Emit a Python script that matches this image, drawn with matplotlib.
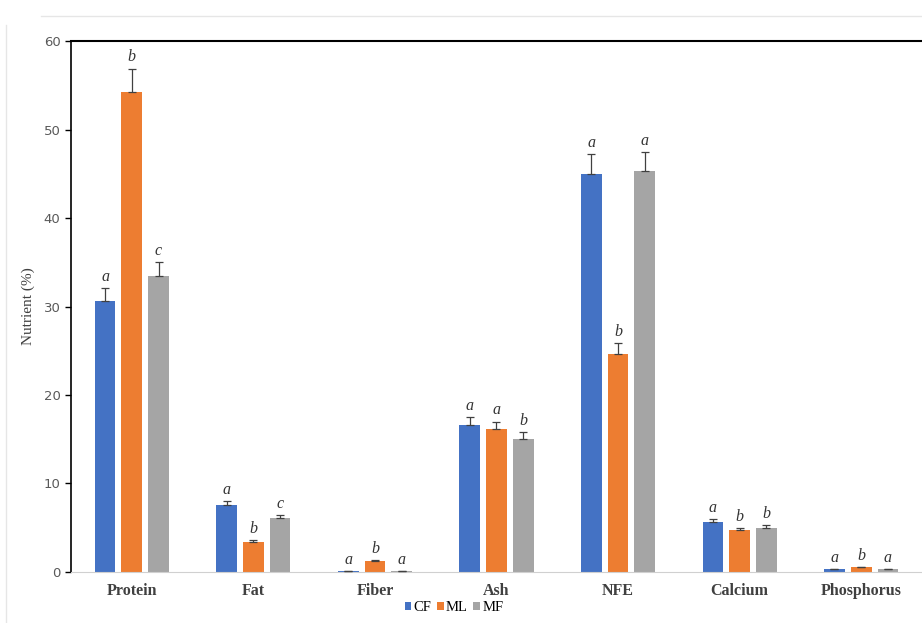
import numpy as np
import matplotlib.pyplot as plt
from matplotlib.lines import Line2D

# nutrient composition
categories = ['Protein', 'Fat', 'Fiber', 'Ash', 'NFE', 'Calcium', 'Phosphorus']
groups = ['CF', 'ML', 'MF']
cf = [30.6, 7.6, 0.1, 16.6, 45.0, 5.6, 0.3]
ml = [54.3, 3.4, 1.2, 16.2, 24.6, 4.7, 0.5]
mf = [33.4, 6.1, 0.05, 15.0, 45.3, 5.0, 0.3]
cf_err = [1.5, 0.4, 0.0, 0.9, 2.2, 0.4, 0.05]
ml_err = [2.6, 0.2, 0.1, 0.8, 1.3, 0.3, 0.05]
mf_err = [1.6, 0.3, 0.0, 0.8, 2.2, 0.3, 0.05]
cf_sig = ['a', 'a', 'a', 'a', 'a', 'a', 'a']
ml_sig = ['b', 'b', 'b', 'a', 'b', 'b', 'b']
mf_sig = ['c', 'c', 'a', 'b', 'a', 'b', 'a']

colors = ['#4472C4', '#ED7D31', '#A5A5A5']
serif = ['Liberation Serif', 'DejaVu Serif']

fig = plt.figure(figsize=(9.22, 6.23), dpi=100)
ax = fig.add_axes([0.077, 0.082, 0.923, 0.852])

# faint chart-area border like the Excel frame
fig.add_artist(Line2D([0.045, 1.0], [0.975, 0.975], color='#e6e6e6', lw=1))
fig.add_artist(Line2D([0.007, 0.007], [0.0, 0.96], color='#e6e6e6', lw=1))

x = np.arange(len(categories))
w = 0.17
step = 0.22
series = [(cf, cf_err, cf_sig), (ml, ml_err, ml_sig), (mf, mf_err, mf_sig)]
for i, (vals, errs, sigs) in enumerate(series):
    xs = x + (i - 1) * step
    ax.bar(xs, vals, width=w, color=colors[i], label=groups[i], zorder=2)
    ax.errorbar(xs, vals, yerr=[np.zeros(len(vals)), errs], fmt='none',
                ecolor='#404040', elinewidth=0.9, capsize=3, capthick=0.9, zorder=3)
    for xi, v, e, s in zip(xs, vals, errs, sigs):
        ax.text(xi, v + e + 0.35, s, ha='center', va='bottom', fontsize=11.5,
                style='italic', family=serif, color='#333333')

ax.set_xlim(-0.5, len(categories) - 0.5)
ax.set_ylim(0, 60)
ax.set_yticks(range(0, 61, 10))
ax.set_xticks(x)
ax.set_xticklabels(categories, family=serif, fontsize=11.5, fontweight='bold', color='#404040')
ax.tick_params(axis='x', length=0, pad=8)
ax.tick_params(axis='y', direction='out', length=4, width=1, colors='black',
               labelcolor='#595959', labelsize=9.5)
ax.set_ylabel('Nutrient (%)', family=serif, fontsize=11, color='#404040', labelpad=6)

ax.spines['right'].set_visible(False)
ax.spines['top'].set_linewidth(1.5)
ax.spines['left'].set_linewidth(1.2)
ax.spines['bottom'].set_color('#d0d0d0')

ax.legend(loc='upper center', bbox_to_anchor=(0.45, -0.03), ncol=3, frameon=False,
          handlelength=0.45, handleheight=0.45, handletextpad=0.15, columnspacing=0.4,
          prop={'family': serif, 'size': 10.5})

fig.savefig('out.png', dpi=100)
